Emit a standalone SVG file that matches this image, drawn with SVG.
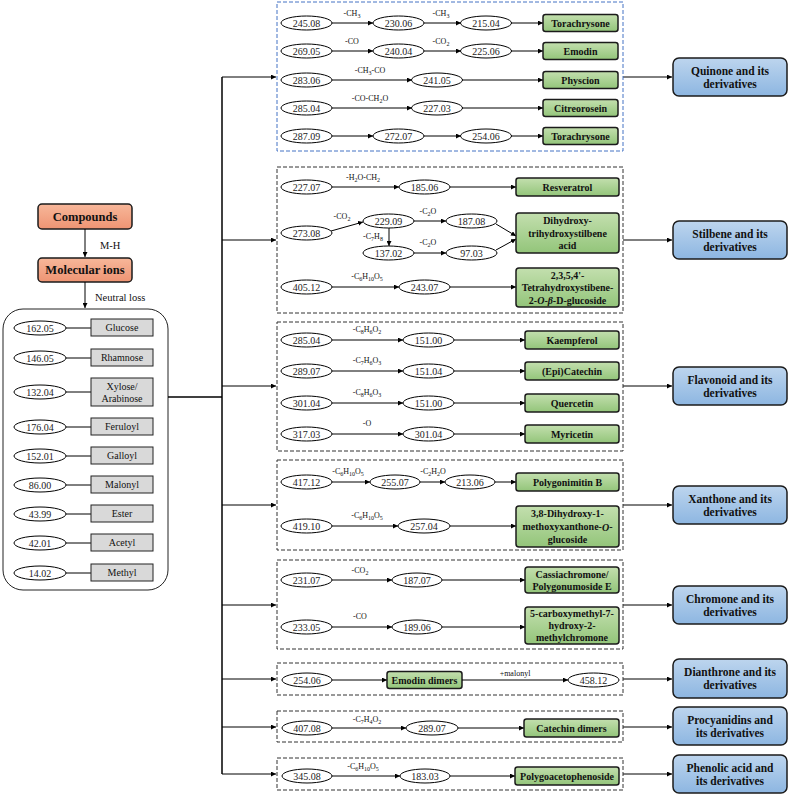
<svg xmlns="http://www.w3.org/2000/svg" width="789" height="795" viewBox="0 0 789 795" font-family="'Liberation Serif', 'Times New Roman', serif">
<defs>
<linearGradient id="gG" x1="0" y1="0" x2="0" y2="1"><stop offset="0" stop-color="#c3dfae"/><stop offset="1" stop-color="#93c57a"/></linearGradient>
<linearGradient id="gB" x1="0" y1="0" x2="0" y2="1"><stop offset="0" stop-color="#bdd5ee"/><stop offset="1" stop-color="#8db6e1"/></linearGradient>
<linearGradient id="gS" x1="0" y1="0" x2="0" y2="1"><stop offset="0" stop-color="#f7b79a"/><stop offset="1" stop-color="#ee9473"/></linearGradient>
<marker id="a" viewBox="0 0 8 8" refX="8" refY="4" markerWidth="5" markerHeight="5" orient="auto" markerUnits="userSpaceOnUse"><path d="M0,0 L8,4 L0,8 Z" fill="#000"/></marker>
</defs>
<style>
text,tspan{font-family:'Liberation Serif','Times New Roman',serif}
text{fill:#111}
.e{fill:#fff;stroke:#000;stroke-width:1}
.n{font-size:10px;text-anchor:middle;dominant-baseline:central;fill:#222}
.g{fill:url(#gG);stroke:#1b1b1b;stroke-width:1.5}
.gt{font-size:10px;font-weight:bold;text-anchor:middle;dominant-baseline:central}
.l{font-size:8px;text-anchor:middle}
.s{font-size:6px}
.d{fill:none;stroke:#333;stroke-width:1;stroke-dasharray:4 2}
.dq{fill:none;stroke:#4472c4;stroke-width:1;stroke-dasharray:4 2}
.b{fill:url(#gB);stroke:#1b1b1b;stroke-width:1.5}
.bt{font-size:11.5px;font-weight:bold;text-anchor:middle;dominant-baseline:central}
.c{stroke:#000;stroke-width:1;fill:none;marker-end:url(#a)}
.cn{stroke:#000;stroke-width:1;fill:none}
.t{stroke:#000;stroke-width:1.5;fill:none}
.gr{fill:#d9d9d9;stroke:#222;stroke-width:1}
.grt{font-size:10px;text-anchor:middle;dominant-baseline:central}
.sal{fill:url(#gS);stroke:#1b1b1b;stroke-width:1.5}
.st{font-size:12.5px;font-weight:bold;text-anchor:middle;dominant-baseline:central}
</style>

<!-- Left panel -->
<g id="compounds"><rect class="sal" x="38" y="204" width="94" height="25" rx="4"/><text class="st" x="85" y="216.5">Compounds</text></g>
<g id="molecular-ions"><rect class="sal" x="38" y="258" width="94" height="24" rx="4"/><text class="st" x="85" y="270">Molecular ions</text></g>
<g id="neutral-loss-panel">
<rect x="3" y="309" width="165" height="281" rx="20" fill="#fff" stroke="#222" stroke-width="1"/>
<g><ellipse class="e" cx="40" cy="328" rx="26" ry="7"/><text class="n" x="40" y="328">162.05</text><line class="cn" x1="66" y1="328" x2="91" y2="328"/><rect class="gr" x="91" y="319" width="62" height="17"/><text class="grt" x="122" y="327.5">Glucose</text></g>
<g><ellipse class="e" cx="40" cy="358" rx="26" ry="7"/><text class="n" x="40" y="358">146.05</text><line class="cn" x1="66" y1="358" x2="91" y2="358"/><rect class="gr" x="91" y="349" width="62" height="17"/><text class="grt" x="122" y="357.5">Rhamnose</text></g>
<g><ellipse class="e" cx="40" cy="392" rx="26" ry="7"/><text class="n" x="40" y="392">132.04</text><line class="cn" x1="66" y1="392" x2="91" y2="392"/><rect class="gr" x="91" y="378" width="62" height="28"/><text class="grt" x="122" y="386">Xylose/</text><text class="grt" x="122" y="398.5">Arabinose</text></g>
<g><ellipse class="e" cx="40" cy="427" rx="26" ry="7"/><text class="n" x="40" y="427">176.04</text><line class="cn" x1="66" y1="427" x2="91" y2="427"/><rect class="gr" x="91" y="418" width="62" height="17"/><text class="grt" x="122" y="426.5">Feruloyl</text></g>
<g><ellipse class="e" cx="40" cy="456" rx="26" ry="7"/><text class="n" x="40" y="456">152.01</text><line class="cn" x1="66" y1="456" x2="91" y2="456"/><rect class="gr" x="91" y="447" width="62" height="17"/><text class="grt" x="122" y="455.5">Galloyl</text></g>
<g><ellipse class="e" cx="40" cy="485" rx="26" ry="7"/><text class="n" x="40" y="485">86.00</text><line class="cn" x1="66" y1="485" x2="91" y2="485"/><rect class="gr" x="91" y="476" width="62" height="17"/><text class="grt" x="122" y="484.5">Malonyl</text></g>
<g><ellipse class="e" cx="40" cy="514" rx="26" ry="7"/><text class="n" x="40" y="514">43.99</text><line class="cn" x1="66" y1="514" x2="91" y2="514"/><rect class="gr" x="91" y="505" width="62" height="17"/><text class="grt" x="122" y="513.5">Ester</text></g>
<g><ellipse class="e" cx="40" cy="543" rx="26" ry="7"/><text class="n" x="40" y="543">42.01</text><line class="cn" x1="66" y1="543" x2="91" y2="543"/><rect class="gr" x="91" y="534" width="62" height="17"/><text class="grt" x="122" y="542.5">Acetyl</text></g>
<g><ellipse class="e" cx="40" cy="573" rx="26" ry="7"/><text class="n" x="40" y="573">14.02</text><line class="cn" x1="66" y1="573" x2="91" y2="573"/><rect class="gr" x="91" y="564" width="62" height="17"/><text class="grt" x="122" y="572.5">Methyl</text></g>
</g>

<!-- Main connectors -->
<g id="connectors">
<line class="c" x1="85" y1="229" x2="85" y2="257"/>
<text x="100" y="249" font-size="10.5">M-H</text>
<line class="c" x1="85" y1="282" x2="85" y2="308"/>
<text x="95" y="301" font-size="10.5">Neutral loss</text>
<line class="t" x1="168" y1="397" x2="222" y2="397"/>
<line class="t" x1="222" y1="77" x2="222" y2="774"/>
<line class="c" x1="222" y1="77" x2="276" y2="77"/>
<line class="c" x1="222" y1="240" x2="276" y2="240"/>
<line class="c" x1="222" y1="386" x2="276" y2="386"/>
<line class="c" x1="222" y1="505" x2="276" y2="505"/>
<line class="c" x1="222" y1="605" x2="276" y2="605"/>
<line class="c" x1="222" y1="679" x2="276" y2="679"/>
<line class="c" x1="222" y1="727" x2="276" y2="727"/>
<line class="c" x1="222" y1="774" x2="276" y2="774"/>
<line class="c" x1="623" y1="77" x2="672" y2="77"/>
<line class="c" x1="623" y1="240" x2="672" y2="240"/>
<line class="c" x1="623" y1="386" x2="672" y2="386"/>
<line class="c" x1="623" y1="505" x2="672" y2="505"/>
<line class="c" x1="623" y1="605" x2="672" y2="605"/>
<line class="c" x1="623" y1="679" x2="672" y2="679"/>
<line class="c" x1="623" y1="727" x2="672" y2="727"/>
<line class="c" x1="623" y1="774" x2="672" y2="774"/>
</g>

<!-- Quinone -->
<g id="quinone-group">
<rect class="dq" x="277" y="2" width="346" height="149"/>
<g><ellipse class="e" cx="306.5" cy="23" rx="25.5" ry="7"/><text class="n" x="306.5" y="23">245.08</text>
<line class="c" x1="332" y1="23" x2="373" y2="23"/><text class="l" x="352" y="16">-CH<tspan class="s" dy="2">3</tspan></text>
<ellipse class="e" cx="398.5" cy="23" rx="25.5" ry="7"/><text class="n" x="398.5" y="23">230.06</text>
<line class="c" x1="424" y1="23" x2="461" y2="23"/><text class="l" x="441" y="16">-CH<tspan class="s" dy="2">3</tspan></text>
<ellipse class="e" cx="486" cy="23" rx="25.5" ry="7"/><text class="n" x="486" y="23">215.04</text>
<line class="c" x1="511" y1="23" x2="543" y2="23"/>
<rect class="g" x="543" y="14.5" width="75" height="17" rx="2.5"/><text class="gt" x="580.5" y="23">Torachrysone</text></g>
<g><ellipse class="e" cx="306.5" cy="51" rx="25.5" ry="7"/><text class="n" x="306.5" y="51">269.05</text>
<line class="c" x1="332" y1="51" x2="373" y2="51"/><text class="l" x="352" y="44">-CO</text>
<ellipse class="e" cx="398.5" cy="51" rx="25.5" ry="7"/><text class="n" x="398.5" y="51">240.04</text>
<line class="c" x1="424" y1="51" x2="461" y2="51"/><text class="l" x="441" y="44">-CO<tspan class="s" dy="2">2</tspan></text>
<ellipse class="e" cx="486" cy="51" rx="25.5" ry="7"/><text class="n" x="486" y="51">225.06</text>
<line class="c" x1="511" y1="51" x2="543" y2="51"/>
<rect class="g" x="543" y="42.5" width="75" height="17" rx="2.5"/><text class="gt" x="580.5" y="51">Emodin</text></g>
<g><ellipse class="e" cx="306.5" cy="80" rx="25.5" ry="7"/><text class="n" x="306.5" y="80">283.06</text>
<line class="c" x1="332" y1="80" x2="412" y2="80"/><text class="l" x="370" y="73">-CH<tspan class="s" dy="2">3</tspan><tspan dy="-2">-CO</tspan></text>
<ellipse class="e" cx="437" cy="80" rx="25.5" ry="7"/><text class="n" x="437" y="80">241.05</text>
<line class="c" x1="462" y1="80" x2="543" y2="80"/>
<rect class="g" x="543" y="71.5" width="75" height="17" rx="2.5"/><text class="gt" x="580.5" y="80">Physcion</text></g>
<g><ellipse class="e" cx="306.5" cy="108" rx="25.5" ry="7"/><text class="n" x="306.5" y="108">285.04</text>
<line class="c" x1="332" y1="108" x2="412" y2="108"/><text class="l" x="370" y="101">-CO-CH<tspan class="s" dy="2">2</tspan><tspan dy="-2">O</tspan></text>
<ellipse class="e" cx="437" cy="108" rx="25.5" ry="7"/><text class="n" x="437" y="108">227.03</text>
<line class="c" x1="462" y1="108" x2="543" y2="108"/>
<rect class="g" x="543" y="99.5" width="75" height="17" rx="2.5"/><text class="gt" x="580.5" y="108">Citreorosein</text></g>
<g><ellipse class="e" cx="306.5" cy="136" rx="25.5" ry="7"/><text class="n" x="306.5" y="136">287.09</text>
<line class="c" x1="332" y1="136" x2="373" y2="136"/>
<ellipse class="e" cx="398.5" cy="136" rx="25.5" ry="7"/><text class="n" x="398.5" y="136">272.07</text>
<line class="c" x1="424" y1="136" x2="461" y2="136"/>
<ellipse class="e" cx="486" cy="136" rx="25.5" ry="7"/><text class="n" x="486" y="136">254.06</text>
<line class="c" x1="511" y1="136" x2="543" y2="136"/>
<rect class="g" x="543" y="127.5" width="75" height="17" rx="2.5"/><text class="gt" x="580.5" y="136">Torachrysone</text></g>
</g>

<!-- Stilbene -->
<g id="stilbene-group">
<rect class="d" x="277" y="167" width="346" height="146"/>
<ellipse class="e" cx="306.5" cy="187" rx="25.5" ry="7"/><text class="n" x="306.5" y="187">227.07</text>
<line class="c" x1="332" y1="187" x2="399" y2="187"/><text class="l" x="363" y="180">-H<tspan class="s" dy="2">2</tspan><tspan dy="-2">O-CH</tspan><tspan class="s" dy="2">2</tspan></text>
<ellipse class="e" cx="424.5" cy="187" rx="25.5" ry="7"/><text class="n" x="424.5" y="187">185.06</text>
<line class="c" x1="450" y1="187" x2="516" y2="187"/>
<rect class="g" x="516" y="178" width="103" height="18" rx="2.5"/><text class="gt" x="567.5" y="187">Resveratrol</text>

<ellipse class="e" cx="306.5" cy="233" rx="25.5" ry="7"/><text class="n" x="306.5" y="233">273.08</text>
<line class="c" x1="331" y1="231" x2="363" y2="222"/><text class="l" x="342" y="219">-CO<tspan class="s" dy="2">2</tspan></text>
<ellipse class="e" cx="388.5" cy="221" rx="25.5" ry="7"/><text class="n" x="388.5" y="221">229.09</text>
<line class="c" x1="414" y1="221" x2="446" y2="221"/><text class="l" x="428" y="214">-C<tspan class="s" dy="2">2</tspan><tspan dy="-2">O</tspan></text>
<ellipse class="e" cx="471.5" cy="221" rx="25.5" ry="7"/><text class="n" x="471.5" y="221">187.08</text>
<line class="c" x1="389" y1="228" x2="389" y2="246"/><text class="l" x="373" y="239">-C<tspan class="s" dy="2">7</tspan><tspan dy="-2">H</tspan><tspan class="s" dy="2">8</tspan></text>
<ellipse class="e" cx="388.5" cy="253" rx="25.5" ry="7"/><text class="n" x="388.5" y="253">137.02</text>
<line class="c" x1="414" y1="253" x2="446" y2="253"/><text class="l" x="428" y="245">-C<tspan class="s" dy="2">2</tspan><tspan dy="-2">O</tspan></text>
<ellipse class="e" cx="471.5" cy="253" rx="25.5" ry="7"/><text class="n" x="471.5" y="253">97.03</text>
<line class="c" x1="496" y1="224" x2="516" y2="236"/>
<line class="c" x1="496" y1="250" x2="516" y2="239"/>
<rect class="g" x="516" y="213" width="103" height="40" rx="3"/>
<text class="gt" x="567.5" y="220.5">Dihydroxy-</text><text class="gt" x="567.5" y="233">trihydroxystilbene</text><text class="gt" x="567.5" y="245.5">acid</text>

<ellipse class="e" cx="306.5" cy="287" rx="25.5" ry="7"/><text class="n" x="306.5" y="287">405.12</text>
<line class="c" x1="332" y1="287" x2="399" y2="287"/><text class="l" x="367" y="279">-C<tspan class="s" dy="2">6</tspan><tspan dy="-2">H</tspan><tspan class="s" dy="2">10</tspan><tspan dy="-2">O</tspan><tspan class="s" dy="2">5</tspan></text>
<ellipse class="e" cx="424.5" cy="287" rx="25.5" ry="7"/><text class="n" x="424.5" y="287">243.07</text>
<line class="c" x1="450" y1="287" x2="516" y2="287"/>
<rect class="g" x="516" y="268" width="103" height="39" rx="3"/>
<text class="gt" x="567.5" y="275">2,3,5,4'-</text><text class="gt" x="567.5" y="287.5">Tetrahydroxystibene-</text><text class="gt" x="567.5" y="300">2-<tspan font-style="italic">O</tspan>-<tspan font-style="italic">β</tspan>-D-glucoside</text>
</g>

<!-- Flavonoid -->
<g id="flavonoid-group">
<rect class="d" x="277" y="322" width="346" height="129"/>
<ellipse class="e" cx="306.5" cy="340" rx="25.5" ry="7"/><text class="n" x="306.5" y="340">285.04</text>
<line class="c" x1="332" y1="340" x2="403" y2="340"/><text class="l" x="367" y="332">-C<tspan class="s" dy="2">8</tspan><tspan dy="-2">H</tspan><tspan class="s" dy="2">6</tspan><tspan dy="-2">O</tspan><tspan class="s" dy="2">2</tspan></text>
<ellipse class="e" cx="428.5" cy="340" rx="25.5" ry="7"/><text class="n" x="428.5" y="340">151.00</text>
<line class="c" x1="454" y1="340" x2="525" y2="340"/>
<rect class="g" x="525" y="331" width="94" height="18" rx="2.5"/><text class="gt" x="572" y="340">Kaempferol</text>

<ellipse class="e" cx="306.5" cy="371" rx="25.5" ry="7"/><text class="n" x="306.5" y="371">289.07</text>
<line class="c" x1="332" y1="371" x2="403" y2="371"/><text class="l" x="367" y="363">-C<tspan class="s" dy="2">7</tspan><tspan dy="-2">H</tspan><tspan class="s" dy="2">6</tspan><tspan dy="-2">O</tspan><tspan class="s" dy="2">3</tspan></text>
<ellipse class="e" cx="428.5" cy="371" rx="25.5" ry="7"/><text class="n" x="428.5" y="371">151.04</text>
<line class="c" x1="454" y1="371" x2="525" y2="371"/>
<rect class="g" x="525" y="362" width="94" height="18" rx="2.5"/><text class="gt" x="572" y="371">(Epi)Catechin</text>

<ellipse class="e" cx="306.5" cy="403" rx="25.5" ry="7"/><text class="n" x="306.5" y="403">301.04</text>
<line class="c" x1="332" y1="403" x2="403" y2="403"/><text class="l" x="367" y="395">-C<tspan class="s" dy="2">8</tspan><tspan dy="-2">H</tspan><tspan class="s" dy="2">6</tspan><tspan dy="-2">O</tspan><tspan class="s" dy="2">3</tspan></text>
<ellipse class="e" cx="428.5" cy="403" rx="25.5" ry="7"/><text class="n" x="428.5" y="403">151.00</text>
<line class="c" x1="454" y1="403" x2="525" y2="403"/>
<rect class="g" x="525" y="394" width="94" height="18" rx="2.5"/><text class="gt" x="572" y="403">Quercetin</text>

<ellipse class="e" cx="306.5" cy="434" rx="25.5" ry="7"/><text class="n" x="306.5" y="434">317.03</text>
<line class="c" x1="332" y1="434" x2="403" y2="434"/><text class="l" x="367" y="426">-O</text>
<ellipse class="e" cx="428.5" cy="434" rx="25.5" ry="7"/><text class="n" x="428.5" y="434">301.04</text>
<line class="c" x1="454" y1="434" x2="525" y2="434"/>
<rect class="g" x="525" y="425" width="94" height="18" rx="2.5"/><text class="gt" x="572" y="434">Myricetin</text>
</g>

<!-- Xanthone -->
<g id="xanthone-group">
<rect class="d" x="277" y="460" width="346" height="90"/>
<ellipse class="e" cx="306.5" cy="482" rx="25.5" ry="7"/><text class="n" x="306.5" y="482">417.12</text>
<line class="c" x1="332" y1="482" x2="370" y2="482"/><text class="l" x="348" y="474">-C<tspan class="s" dy="2">6</tspan><tspan dy="-2">H</tspan><tspan class="s" dy="2">10</tspan><tspan dy="-2">O</tspan><tspan class="s" dy="2">5</tspan></text>
<ellipse class="e" cx="395" cy="482" rx="25" ry="7"/><text class="n" x="395" y="482">255.07</text>
<line class="c" x1="420" y1="482" x2="445" y2="482"/><text class="l" x="433" y="474">-C<tspan class="s" dy="2">2</tspan><tspan dy="-2">H</tspan><tspan class="s" dy="2">2</tspan><tspan dy="-2">O</tspan></text>
<ellipse class="e" cx="470" cy="482" rx="25" ry="7"/><text class="n" x="470" y="482">213.06</text>
<line class="c" x1="495" y1="482" x2="516" y2="482"/>
<rect class="g" x="516" y="473" width="103" height="18" rx="2.5"/><text class="gt" x="567.5" y="482">Polygonimitin B</text>

<ellipse class="e" cx="306.5" cy="526" rx="25.5" ry="7"/><text class="n" x="306.5" y="526">419.10</text>
<line class="c" x1="332" y1="526" x2="398" y2="526"/><text class="l" x="367" y="518">-C<tspan class="s" dy="2">6</tspan><tspan dy="-2">H</tspan><tspan class="s" dy="2">10</tspan><tspan dy="-2">O</tspan><tspan class="s" dy="2">5</tspan></text>
<ellipse class="e" cx="424" cy="526" rx="26" ry="7"/><text class="n" x="424" y="526">257.04</text>
<line class="c" x1="450" y1="526" x2="516" y2="526"/>
<rect class="g" x="516" y="506" width="103" height="41" rx="3"/>
<text class="gt" x="567.5" y="513.5">3,8-Dihydroxy-1-</text><text class="gt" x="567.5" y="526.5">methoxyxanthone-<tspan font-style="italic">O</tspan>-</text><text class="gt" x="567.5" y="539.5">glucoside</text>
</g>

<!-- Chromone -->
<g id="chromone-group">
<rect class="d" x="277" y="560" width="346" height="89"/>
<ellipse class="e" cx="306.5" cy="580" rx="25.5" ry="7"/><text class="n" x="306.5" y="580">231.07</text>
<line class="c" x1="332" y1="580" x2="392" y2="580"/><text class="l" x="360" y="573">-CO<tspan class="s" dy="2">2</tspan></text>
<ellipse class="e" cx="417" cy="580" rx="25" ry="7"/><text class="n" x="417" y="580">187.07</text>
<line class="c" x1="442" y1="580" x2="525" y2="580"/>
<rect class="g" x="525" y="567" width="94" height="26" rx="3"/>
<text class="gt" x="572" y="574.5">Cassiachromone/</text><text class="gt" x="572" y="586">Polygonumoside E</text>

<ellipse class="e" cx="306.5" cy="627" rx="25.5" ry="7"/><text class="n" x="306.5" y="627">233.05</text>
<line class="c" x1="332" y1="627" x2="392" y2="627"/><text class="l" x="360" y="619">-CO</text>
<ellipse class="e" cx="417" cy="627" rx="25" ry="7"/><text class="n" x="417" y="627">189.06</text>
<line class="c" x1="442" y1="627" x2="525" y2="627"/>
<rect class="g" x="525" y="607" width="94" height="37" rx="3"/>
<text class="gt" x="572" y="613.5">5-carboxymethyl-7-</text><text class="gt" x="572" y="625.5">hydroxy-2-</text><text class="gt" x="572" y="637.5">methylchromone</text>
</g>

<!-- Dianthrone -->
<g id="dianthrone-group">
<rect class="d" x="277" y="663" width="346" height="32"/>
<ellipse class="e" cx="307" cy="680" rx="25" ry="7"/><text class="n" x="307" y="680">254.06</text>
<line class="c" x1="332" y1="680" x2="387" y2="680"/>
<rect class="g" x="387" y="671.5" width="75" height="17" rx="2.5"/><text class="gt" x="424.5" y="680">Emodin dimers</text>
<line class="c" x1="462" y1="680" x2="568" y2="680"/><text class="l" x="515" y="676">+malonyl</text>
<ellipse class="e" cx="593.5" cy="680" rx="25.5" ry="7"/><text class="n" x="593.5" y="680">458.12</text>
</g>

<!-- Procyanidins -->
<g id="procyanidins-group">
<rect class="d" x="277" y="711" width="346" height="31"/>
<ellipse class="e" cx="307" cy="728" rx="25" ry="7"/><text class="n" x="307" y="728">407.08</text>
<line class="c" x1="332" y1="728" x2="406" y2="728"/><text class="l" x="367" y="722">-C<tspan class="s" dy="2">7</tspan><tspan dy="-2">H</tspan><tspan class="s" dy="2">4</tspan><tspan dy="-2">O</tspan><tspan class="s" dy="2">2</tspan></text>
<ellipse class="e" cx="432" cy="728" rx="26" ry="7"/><text class="n" x="432" y="728">289.07</text>
<line class="c" x1="458" y1="728" x2="524" y2="728"/>
<rect class="g" x="524" y="719" width="95" height="18" rx="2.5"/><text class="gt" x="571.5" y="728">Catechin dimers</text>
</g>

<!-- Phenolic -->
<g id="phenolic-group">
<rect class="d" x="277" y="758" width="346" height="32"/>
<ellipse class="e" cx="307" cy="776" rx="25" ry="7"/><text class="n" x="307" y="776">345.08</text>
<line class="c" x1="332" y1="776" x2="400" y2="776"/><text class="l" x="363" y="769">-C<tspan class="s" dy="2">6</tspan><tspan dy="-2">H</tspan><tspan class="s" dy="2">10</tspan><tspan dy="-2">O</tspan><tspan class="s" dy="2">5</tspan></text>
<ellipse class="e" cx="425" cy="776" rx="25" ry="7"/><text class="n" x="425" y="776">183.03</text>
<line class="c" x1="450" y1="776" x2="515" y2="776"/>
<rect class="g" x="515" y="767" width="104" height="18" rx="2.5"/><text class="gt" x="567" y="776">Polygoacetophenoside</text>
</g>

<!-- Class boxes -->
<g id="quinone"><rect class="b" x="673" y="58" width="114" height="38" rx="6"/><text class="bt" x="730" y="70.5">Quinone and its</text><text class="bt" x="730" y="84">derivatives</text></g>
<g id="stilbene"><rect class="b" x="673" y="221" width="114" height="38" rx="6"/><text class="bt" x="730" y="233.5">Stilbene and its</text><text class="bt" x="730" y="247">derivatives</text></g>
<g id="flavonoid"><rect class="b" x="673" y="367" width="114" height="38" rx="6"/><text class="bt" x="730" y="379.5">Flavonoid and its</text><text class="bt" x="730" y="393">derivatives</text></g>
<g id="xanthone"><rect class="b" x="673" y="486" width="114" height="38" rx="6"/><text class="bt" x="730" y="498.5">Xanthone and its</text><text class="bt" x="730" y="512">derivatives</text></g>
<g id="chromone"><rect class="b" x="673" y="586" width="114" height="38" rx="6"/><text class="bt" x="730" y="598.5">Chromone and its</text><text class="bt" x="730" y="612">derivatives</text></g>
<g id="dianthrone"><rect class="b" x="673" y="659" width="114" height="39" rx="6"/><text class="bt" x="730" y="671.5">Dianthrone and its</text><text class="bt" x="730" y="685">derivatives</text></g>
<g id="procyanidins"><rect class="b" x="673" y="707" width="114" height="38" rx="6"/><text class="bt" x="730" y="719.5">Procyanidins and</text><text class="bt" x="730" y="733">its derivatives</text></g>
<g id="phenolic"><rect class="b" x="673" y="755" width="114" height="38" rx="6"/><text class="bt" x="730" y="767.5">Phenolic acid and</text><text class="bt" x="730" y="781">its derivatives</text></g>
</svg>
